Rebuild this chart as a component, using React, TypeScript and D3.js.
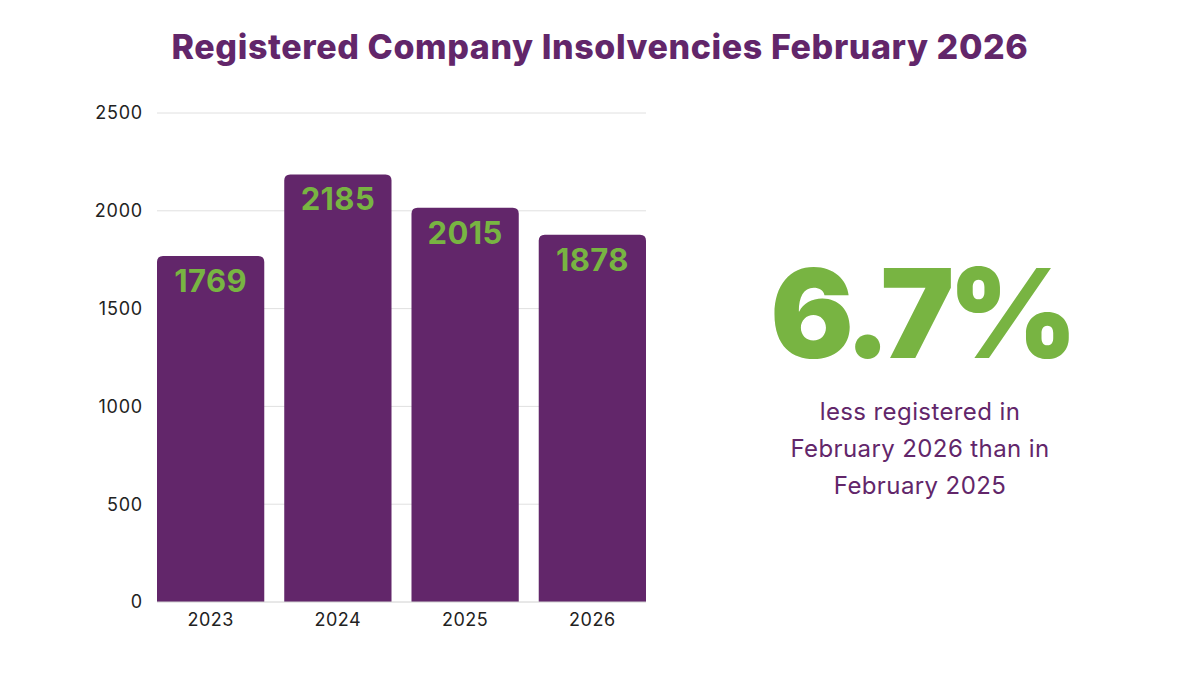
import React from 'react';
import * as d3 from 'd3';

const years = ['2023', '2024', '2025', '2026'];
const insolvencies = [1769, 2185, 2015, 1878];
const yTicks = [0, 500, 1000, 1500, 2000, 2500];
const headline = '6.7%';
const noteLines = ['less registered in', 'February 2026 than in', 'February 2025'];

const W = 1200;
const H = 675;
const PURPLE = '#62266a';
const GREEN = '#78b442';

// bar with rounded top corners only
function topRoundedBar(x: number, y: number, w: number, h: number, r: number) {
  const rr = Math.min(r, h, w / 2);
  return `M${x},${y + h}V${y + rr}Q${x},${y} ${x + rr},${y}H${x + w - rr}Q${x + w},${y} ${x + w},${y + rr}V${y + h}Z`;
}

export default function App() {
  const x = d3.scaleBand<string>().domain(years).range([157, 646]).paddingInner(0.157).paddingOuter(0);
  const y = d3.scaleLinear().domain([0, 2500]).range([602, 113]);

  return (
    <svg width={W} height={H} style={{ position: 'absolute', left: 0, top: 0, background: '#fff' }}
      fontFamily="Inter, 'Noto Sans', sans-serif">
      <text x={600} y={59} textAnchor="middle" fontSize={34} fontWeight={800} fill={PURPLE} letterSpacing={0.6}>
        Registered Company Insolvencies February 2026
      </text>

      {yTicks.map((t) => (
        <g key={t}>
          {t > 0 && <line x1={157} x2={646} y1={y(t)} y2={y(t)} stroke="#e0e0e0" strokeWidth={1} />}
          <text x={143} y={y(t)} dy="0.35em" textAnchor="end" fontSize={18} letterSpacing={0.8} fill="#222">{t}</text>
        </g>
      ))}

      {years.map((yr, i) => {
        const bx = x(yr)!;
        const by = y(insolvencies[i]);
        const bw = x.bandwidth();
        return (
          <g key={yr}>
            <path d={topRoundedBar(bx, by, bw, y(0) - by, 6)} fill={PURPLE} />
            <text x={bx + bw / 2} y={by + 25} dy="0.35em" textAnchor="middle" fontSize={31} fontWeight={700} letterSpacing={0.4} fill={GREEN}>
              {insolvencies[i]}
            </text>
            <text x={bx + bw / 2} y={620} dy="0.35em" textAnchor="middle" fontSize={18} letterSpacing={0.5} fill="#222">{yr}</text>
          </g>
        );
      })}
      <line x1={157} x2={646} y1={y(0)} y2={y(0)} stroke="#d0d0d0" strokeWidth={1} />

      <text x={921} y={358} textAnchor="middle" fontSize={124} fontWeight={900} fill={GREEN} letterSpacing={-6}>
        {headline}
      </text>
      {noteLines.map((l, i) => (
        <text key={l} x={920} y={412 + i * 37} dy="0.35em" textAnchor="middle" fontSize={24} letterSpacing={0.4} fill={PURPLE}>
          {l}
        </text>
      ))}
    </svg>
  );
}
